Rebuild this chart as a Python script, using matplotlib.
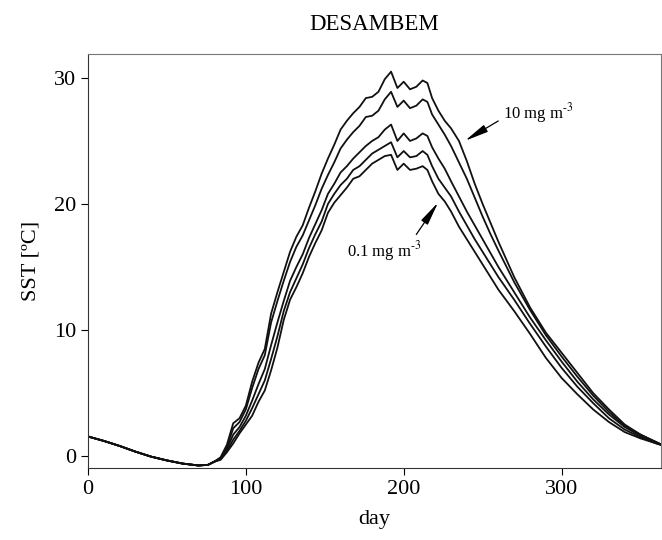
import matplotlib
matplotlib.use('Agg')
import matplotlib.pyplot as plt

plt.rcParams['font.family'] = ['Liberation Serif', 'DejaVu Serif']
plt.rcParams['mathtext.fontset'] = 'stix'

# day of year
days = [0, 10, 20, 30, 40, 50, 60, 70, 76, 80, 84, 88, 92, 96,
        100, 104, 108, 112, 116, 120, 124, 128, 132, 136,
        140, 144, 148, 152, 156, 160, 164, 168, 172, 176,
        180, 184, 188, 192, 196, 200, 204, 208, 212, 215,
        218, 222, 226, 230, 235, 240, 245, 250, 255, 260,
        270, 280, 290, 300, 310, 320, 330, 340, 350, 360, 365]

winter = [1.55, 1.2, 0.8, 0.35, -0.05, -0.35, -0.6, -0.75, -0.7, -0.45]

# SST for the five chlorophyll concentrations (0.1 ... 10 mg m-3)
sst_01 = winter + [-0.3, 0.3, 1.0, 1.8,
          2.5, 3.2, 4.3, 5.2, 6.8, 8.6, 10.8, 12.4, 13.4, 14.5,
          15.8, 16.9, 17.9, 19.3, 20.1, 20.7, 21.3, 22.0, 22.2, 22.7,
          23.2, 23.5, 23.8, 23.9, 22.7, 23.2, 22.7, 22.8, 23.0, 22.7,
          21.8, 20.8, 20.2, 19.4, 18.2, 17.2, 16.2, 15.2, 14.2, 13.2,
          11.5, 9.7, 7.8, 6.2, 4.9, 3.7, 2.7, 1.9, 1.4, 1.0, 0.8]
sst_02 = winter + [-0.25, 0.4, 1.3, 2.0,
          2.8, 3.8, 4.9, 6.0, 7.7, 9.5, 11.5, 13.0, 14.1, 15.2,
          16.5, 17.6, 18.6, 20.0, 20.8, 21.5, 22.0, 22.7, 23.0, 23.5,
          24.0, 24.3, 24.6, 24.9, 23.7, 24.2, 23.7, 23.8, 24.2, 23.9,
          23.0, 22.0, 21.3, 20.6, 19.4, 18.3, 17.2, 16.2, 15.2, 14.2,
          12.4, 10.5, 8.7, 7.0, 5.5, 4.2, 3.0, 2.1, 1.5, 1.0, 0.8]
sst_03 = winter + [-0.2, 0.55, 1.7, 2.3,
          3.2, 4.4, 5.7, 6.9, 8.8, 10.6, 12.3, 13.9, 15.0, 16.0,
          17.3, 18.4, 19.5, 20.8, 21.6, 22.5, 23.0, 23.6, 24.1, 24.6,
          25.0, 25.3, 25.9, 26.3, 25.0, 25.6, 25.0, 25.2, 25.6, 25.4,
          24.5, 23.6, 22.8, 21.8, 20.6, 19.4, 18.3, 17.2, 16.1, 15.0,
          13.0, 11.0, 9.2, 7.5, 5.9, 4.5, 3.3, 2.3, 1.6, 1.1, 0.8]
sst_04 = winter + [-0.15, 0.7, 2.2, 2.7,
          3.7, 5.4, 6.9, 8.0, 10.6, 12.3, 13.9, 15.4, 16.6, 17.5,
          18.7, 19.9, 21.2, 22.3, 23.3, 24.4, 25.1, 25.7, 26.2, 26.9,
          27.0, 27.4, 28.3, 28.9, 27.7, 28.2, 27.6, 27.8, 28.3, 28.1,
          27.1, 26.3, 25.5, 24.6, 23.3, 22.0, 20.5, 19.0, 17.6, 16.3,
          13.8, 11.6, 9.6, 7.9, 6.3, 4.8, 3.5, 2.4, 1.7, 1.1, 0.8]
sst_10 = winter + [-0.1, 0.9, 2.6, 3.0,
          4.0, 5.9, 7.4, 8.5, 11.3, 13.0, 14.6, 16.2, 17.4, 18.3,
          19.7, 21.0, 22.4, 23.6, 24.7, 25.9, 26.6, 27.2, 27.7, 28.4,
          28.5, 28.9, 29.9, 30.5, 29.2, 29.7, 29.1, 29.3, 29.8, 29.6,
          28.4, 27.4, 26.6, 26.0, 25.0, 23.4, 21.6, 20.0, 18.5, 17.0,
          14.2, 11.8, 9.8, 8.2, 6.6, 5.0, 3.7, 2.5, 1.7, 1.1, 0.8]

fig = plt.figure(figsize=(6.62, 5.40), dpi=100)
ax = fig.add_axes([88 / 662, 1 - 468 / 540, 573 / 662, 414 / 540])

for sst in [sst_01, sst_02, sst_03, sst_04, sst_10]:
    ax.plot(days, sst, color='#111111', lw=1.3)

ax.set_xlim(0, 363)
ax.set_ylim(-0.95, 31.9)
ax.set_xticks([0, 100, 200, 300])
ax.set_yticks([0, 10, 20, 30])
ax.tick_params(labelsize=16, direction='out', length=5, top=False, right=False)
for side in ['top', 'right']:
    ax.spines[side].set_color('#777777')
for side in ['left', 'bottom']:
    ax.spines[side].set_color('#333333')

ax.set_xlabel('day', fontsize=16, labelpad=8)
ax.set_ylabel('SST [ºC]', fontsize=16, labelpad=10)
ax.set_title('DESAMBEM', fontsize=16.5, pad=17)

arrow = dict(arrowstyle='-|>,head_length=1.2,head_width=0.2', color='black',
             lw=0.9, mutation_scale=12)
ax.annotate('', xy=(237.3, 24.9), xytext=(261.4, 26.7), arrowprops=arrow)
ax.text(263, 27.2, '10 mg m$^{\\mathrm{‐3}}$', fontsize=12, va='center')
ax.annotate('', xy=(222.8, 20.3), xytext=(207, 17.4), arrowprops=arrow)
ax.text(164, 16.3, '0.1 mg m$^{\\mathrm{‐3}}$', fontsize=12, va='center')

fig.savefig('out.png', dpi=100)
